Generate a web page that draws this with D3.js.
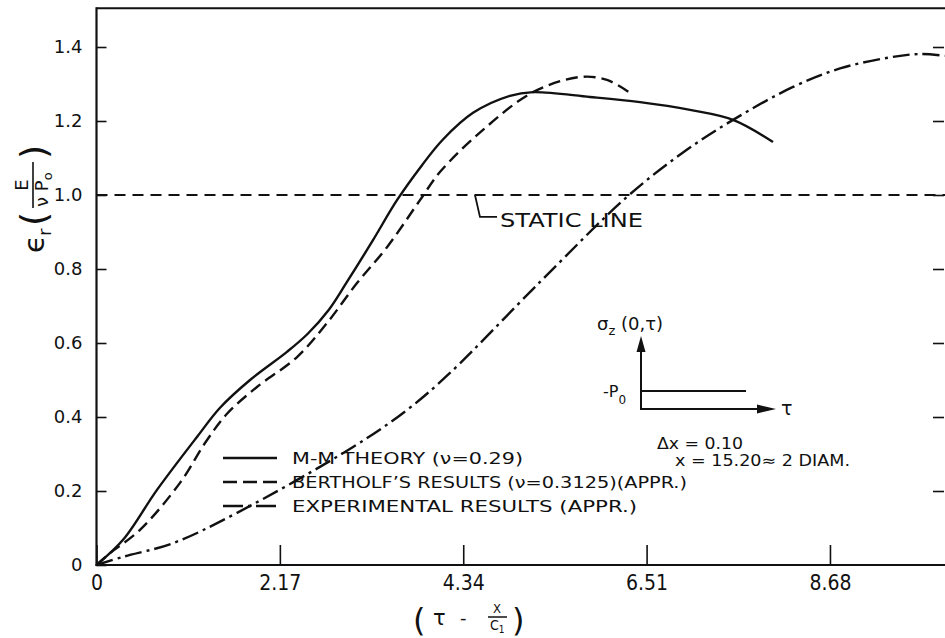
<!DOCTYPE html>
<html><head><meta charset="utf-8">
<script src="https://cdn.jsdelivr.net/npm/d3@7"></script>
<style>body{margin:0;background:#fff} svg{display:block}</style>
</head><body>
<svg id="chart" width="945" height="638"></svg>
<script>
// ---------- data ----------
const xTickValues = [0, 2.17, 4.34, 6.51, 8.68];
const xTickLabels = ["0", "2.17", "4.34", "6.51", "8.68"];
const yTickValues = [0, 0.2, 0.4, 0.6, 0.8, 1.0, 1.2, 1.4];
const yTickLabels = ["0", "0.2", "0.4", "0.6", "0.8", "1.0", "1.2", "1.4"];
const staticLevel = 1.0;

const mmTheory = [[0,0],[0.314,0.068],[0.716,0.203],[1.189,0.346],[1.462,0.425],[1.817,0.500],[2.254,0.576],[2.50,0.625],[2.75,0.69],[2.964,0.765],[3.272,0.878],[3.556,0.986],[3.85,1.08],[4.10,1.15],[4.456,1.222],[4.893,1.268],[5.166,1.278],[5.840,1.265],[6.432,1.251],[7.024,1.230],[7.533,1.203],[8.006,1.143]];
const bertholf = [[0,0],[0.160,0.032],[0.515,0.095],[0.988,0.222],[1.30,0.335],[1.55,0.41],[1.899,0.481],[2.373,0.562],[2.728,0.654],[3.083,0.762],[3.438,0.859],[3.828,0.986],[4.064,1.062],[4.574,1.176],[5.166,1.278],[5.722,1.319],[6.041,1.311],[6.314,1.276]];
const experimental = [[0,0],[0.314,0.022],[0.905,0.059],[1.663,0.141],[3.036,0.319],[3.675,0.419],[4.183,0.519],[5.249,0.765],[6.278,0.995],[6.941,1.115],[7.533,1.203],[8.243,1.292],[8.799,1.342],[9.391,1.372],[9.746,1.381],[10.04,1.376]];

const legendLabels = ["M-M THEORY (\u03BD=0.29)", "BERTHOLF\u2019S RESULTS (\u03BD=0.3125)(APPR.)", "EXPERIMENTAL RESULTS (APPR.)"];
const staticLabel = "STATIC LINE";
const insetLines = ["\u0394x = 0.10", "x = 15.20\u2248 2 DIAM."];

// ---------- layout ----------
const ink = "#111";
const fontMain = "'DejaVu Sans', sans-serif";
const fontNarrow = "'Liberation Sans Narrow', 'DejaVu Sans Condensed', sans-serif";
const svg = d3.select("#chart");
const x = d3.scaleLinear().domain([0, 10]).range([96.5, 941.5]);
const y = d3.scaleLinear().domain([0, 1.5]).range([565, 10]);
const yTop = 1.505;

// frame
svg.append("line").attr("x1", x(0)).attr("x2", 945).attr("y1", y(yTop)).attr("y2", y(yTop))
  .attr("stroke", ink).attr("stroke-width", 2);
svg.append("line").attr("x1", x(0)).attr("x2", x(0)).attr("y1", y(0)+1).attr("y2", y(yTop)-1)
  .attr("stroke", ink).attr("stroke-width", 2.2);
svg.append("line").attr("x1", x(0)-1).attr("x2", 945).attr("y1", y(0)).attr("y2", y(0))
  .attr("stroke", ink).attr("stroke-width", 2.2);

// left axis
const gL = svg.append("g").attr("transform", `translate(${x(0)},0)`)
  .call(d3.axisLeft(y).tickValues(yTickValues).tickFormat((d,i)=>yTickLabels[i])
    .tickSizeInner(-10).tickSizeOuter(0).tickPadding(14));
gL.select(".domain").remove();
gL.selectAll(".tick line").attr("stroke", ink).attr("stroke-width", 1.6);
gL.selectAll(".tick text").attr("fill", ink).style("font-family", fontMain).style("font-size", "18px");

// right ticks
const gR = svg.append("g").attr("transform", `translate(944,0)`)
  .call(d3.axisLeft(y).tickValues(yTickValues.slice(1)).tickFormat("").tickSizeInner(11).tickSizeOuter(0));
gR.select(".domain").remove();
gR.selectAll(".tick line").attr("stroke", ink).attr("stroke-width", 1.6);

// bottom axis
const gB = svg.append("g").attr("transform", `translate(0,${y(0)})`)
  .call(d3.axisBottom(x).tickValues(xTickValues).tickFormat((d,i)=>xTickLabels[i])
    .tickSizeInner(-20).tickSizeOuter(0).tickPadding(10));
gB.select(".domain").remove();
gB.selectAll(".tick line").attr("stroke", ink).attr("stroke-width", 1.6);
gB.selectAll(".tick text").attr("fill", ink).style("font-family", fontNarrow).style("font-size", "21px");

// static line
svg.append("line").attr("x1", x(0)).attr("x2", 945).attr("y1", y(staticLevel)).attr("y2", y(staticLevel))
  .attr("stroke", ink).attr("stroke-width", 1.8).attr("stroke-dasharray", "11 7");
svg.append("path")
  .attr("d", `M${x(4.479)},${y(staticLevel)} L${x(4.538)},${y(0.941)} L${x(4.74)},${y(0.941)}`)
  .attr("fill", "none").attr("stroke", ink).attr("stroke-width", 1.8);
svg.append("text").attr("x", x(4.775)).attr("y", y(0.914)).text(staticLabel)
  .attr("fill", ink).style("font-family", fontMain).style("font-size", "20px")
  .attr("textLength", 143).attr("lengthAdjust", "spacingAndGlyphs");

// curves
const line = d3.line().x(d => x(d[0])).y(d => y(d[1])).curve(d3.curveCatmullRom.alpha(0.5));
const series = [
  {data: mmTheory, dash: null},
  {data: bertholf, dash: "12 6"},
  {data: experimental, dash: "17 5 3 5"}
];
series.forEach(s => {
  svg.append("path").attr("d", line(s.data)).attr("fill", "none").attr("stroke", ink)
    .attr("stroke-width", 2.4).attr("stroke-dasharray", s.dash).attr("stroke-linecap", "butt");
});

// legend
const legY = [458, 482, 506];
const legW = [231, 395, 345];
const legDash = [null, "14 6", "20 5 3 5"];
legendLabels.forEach((t, i) => {
  svg.append("line").attr("x1", 223).attr("x2", 277).attr("y1", legY[i]).attr("y2", legY[i])
    .attr("stroke", ink).attr("stroke-width", 2.4).attr("stroke-dasharray", legDash[i]);
  svg.append("text").attr("x", 292).attr("y", legY[i] + 6).text(t)
    .attr("fill", ink).style("font-family", fontMain).style("font-size", "16px")
    .attr("textLength", legW[i]).attr("lengthAdjust", "spacingAndGlyphs");
});

// inset
const inset = svg.append("g");
inset.append("line").attr("x1", 641).attr("x2", 641).attr("y1", 410).attr("y2", 350)
  .attr("stroke", ink).attr("stroke-width", 2);
inset.append("path").attr("d", "M641,336 L636.5,352 L645.5,352 Z").attr("fill", ink);
inset.append("line").attr("x1", 640).attr("x2", 760).attr("y1", 409).attr("y2", 409)
  .attr("stroke", ink).attr("stroke-width", 2);
inset.append("path").attr("d", "M776,409 L757,404.5 L757,413.5 Z").attr("fill", ink);
inset.append("line").attr("x1", 641).attr("x2", 746).attr("y1", 391).attr("y2", 391)
  .attr("stroke", ink).attr("stroke-width", 2);
const sig = inset.append("text").attr("x", 597).attr("y", 330).attr("fill", ink)
  .style("font-family", fontMain).style("font-size", "18px");
sig.append("tspan").text("\u03C3");
sig.append("tspan").text("z").attr("dy", 5).style("font-size", "13px");
sig.append("tspan").text(" (0,\u03C4)").attr("dy", -5);
const po = inset.append("text").attr("x", 603).attr("y", 397).attr("fill", ink)
  .style("font-family", fontMain).style("font-size", "16px");
po.append("tspan").text("-P");
po.append("tspan").text("0").attr("dy", 7).style("font-size", "12px");
inset.append("text").attr("x", 781).attr("y", 415).text("\u03C4").attr("fill", ink)
  .style("font-family", fontMain).style("font-size", "19px");
inset.append("text").attr("x", 657).attr("y", 449).text(insetLines[0]).attr("fill", ink)
  .style("font-family", fontMain).style("font-size", "15px")
  .attr("textLength", 86).attr("lengthAdjust", "spacingAndGlyphs");
inset.append("text").attr("x", 675).attr("y", 466).text(insetLines[1]).attr("fill", ink)
  .style("font-family", fontMain).style("font-size", "15px")
  .attr("textLength", 175).attr("lengthAdjust", "spacingAndGlyphs");

// y axis title (rotated)
const yt = svg.append("g").attr("transform", "translate(32,192) rotate(-90)").attr("fill", ink)
  .style("font-family", fontMain);
yt.append("text").attr("x", -61).attr("y", 12).text("\u03F5").style("font-size", "29px");
yt.append("text").attr("x", -44).attr("y", 19).text("r").style("font-size", "18px");
yt.append("text").attr("x", -34).attr("y", 14).text("(").style("font-size", "36px");
yt.append("text").attr("x", 7).attr("y", -4).attr("text-anchor", "middle").text("E").style("font-size", "18px");
yt.append("line").attr("x1", -16).attr("x2", 30).attr("y1", 1).attr("y2", 1).attr("stroke", ink).attr("stroke-width", 1.6);
const den = yt.append("text").attr("x", -15).attr("y", 16).style("font-size", "18px");
den.append("tspan").text("\u03BD P");
den.append("tspan").text("o").attr("dy", 4).style("font-size", "13px");
yt.append("text").attr("x", 33).attr("y", 14).text(")").style("font-size", "36px");

// x axis title
const xt = svg.append("g").attr("fill", ink).style("font-family", fontMain);
xt.append("text").attr("x", 413).attr("y", 631).text("(").style("font-size", "32px");
xt.append("text").attr("x", 433).attr("y", 625).text("\u03C4").style("font-size", "21px");
xt.append("text").attr("x", 460).attr("y", 624).text("-").style("font-size", "18px");
xt.append("text").attr("x", 497).attr("y", 613).attr("text-anchor", "middle").text("X").style("font-family", fontNarrow).style("font-size", "13px");
xt.append("line").attr("x1", 488).attr("x2", 507).attr("y1", 617).attr("y2", 617).attr("stroke", ink).attr("stroke-width", 1.5);
const cden = xt.append("text").attr("x", 490).attr("y", 630).style("font-family", fontNarrow).style("font-size", "14px");
cden.append("tspan").text("C");
cden.append("tspan").text("1").attr("dy", 3).style("font-size", "10px");
xt.append("text").attr("x", 512).attr("y", 631).text(")").style("font-size", "32px");
</script>
</body></html>
